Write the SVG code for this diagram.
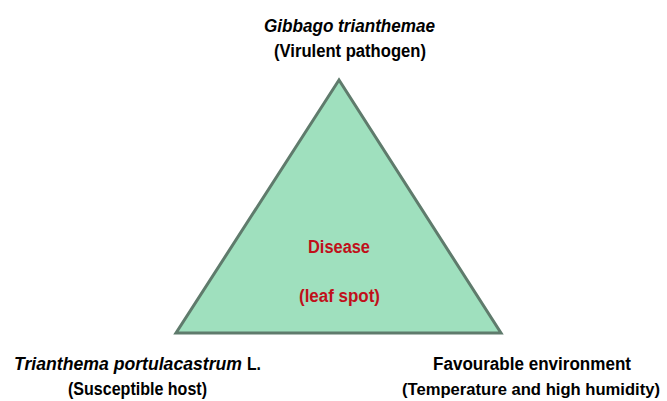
<svg xmlns="http://www.w3.org/2000/svg" width="667" height="401" viewBox="0 0 667 401">
<style>
.t{font-family:"Liberation Sans",Arial,sans-serif;font-weight:bold;font-size:18px;fill:#000}
.i{font-style:italic}
.r{fill:#C0101A}
</style>
<rect width="667" height="401" fill="#fff"/>
<g id="triangle">
<polygon points="339,80 176,333 501,333" fill="#9FE0BE" stroke="#5F7B6C" stroke-width="3" stroke-linejoin="miter"/>
<text class="t r" x="308" y="253" textLength="62" lengthAdjust="spacingAndGlyphs">Disease</text>
<text class="t r" x="299" y="302" textLength="81" lengthAdjust="spacingAndGlyphs">(leaf spot)</text>
</g>
<g id="pathogen">
<text class="t i" x="264" y="32" textLength="171" lengthAdjust="spacingAndGlyphs">Gibbago trianthemae</text>
<text class="t" x="274" y="57" textLength="152" lengthAdjust="spacingAndGlyphs">(Virulent pathogen)</text>
</g>
<g id="host">
<text class="t i" x="14" y="370" textLength="228" lengthAdjust="spacingAndGlyphs">Trianthema portulacastrum</text>
<text class="t" x="247" y="370" textLength="14" lengthAdjust="spacingAndGlyphs">L.</text>
<text class="t" x="68" y="395" textLength="139" lengthAdjust="spacingAndGlyphs">(Susceptible host)</text>
</g>
<g id="environment">
<text class="t" x="433" y="370" textLength="198" lengthAdjust="spacingAndGlyphs">Favourable environment</text>
<text class="t" x="402" y="395" style="font-size:16.5px" textLength="258" lengthAdjust="spacingAndGlyphs">(Temperature and high humidity)</text>
</g>
<g id="connectors"></g>
</svg>
